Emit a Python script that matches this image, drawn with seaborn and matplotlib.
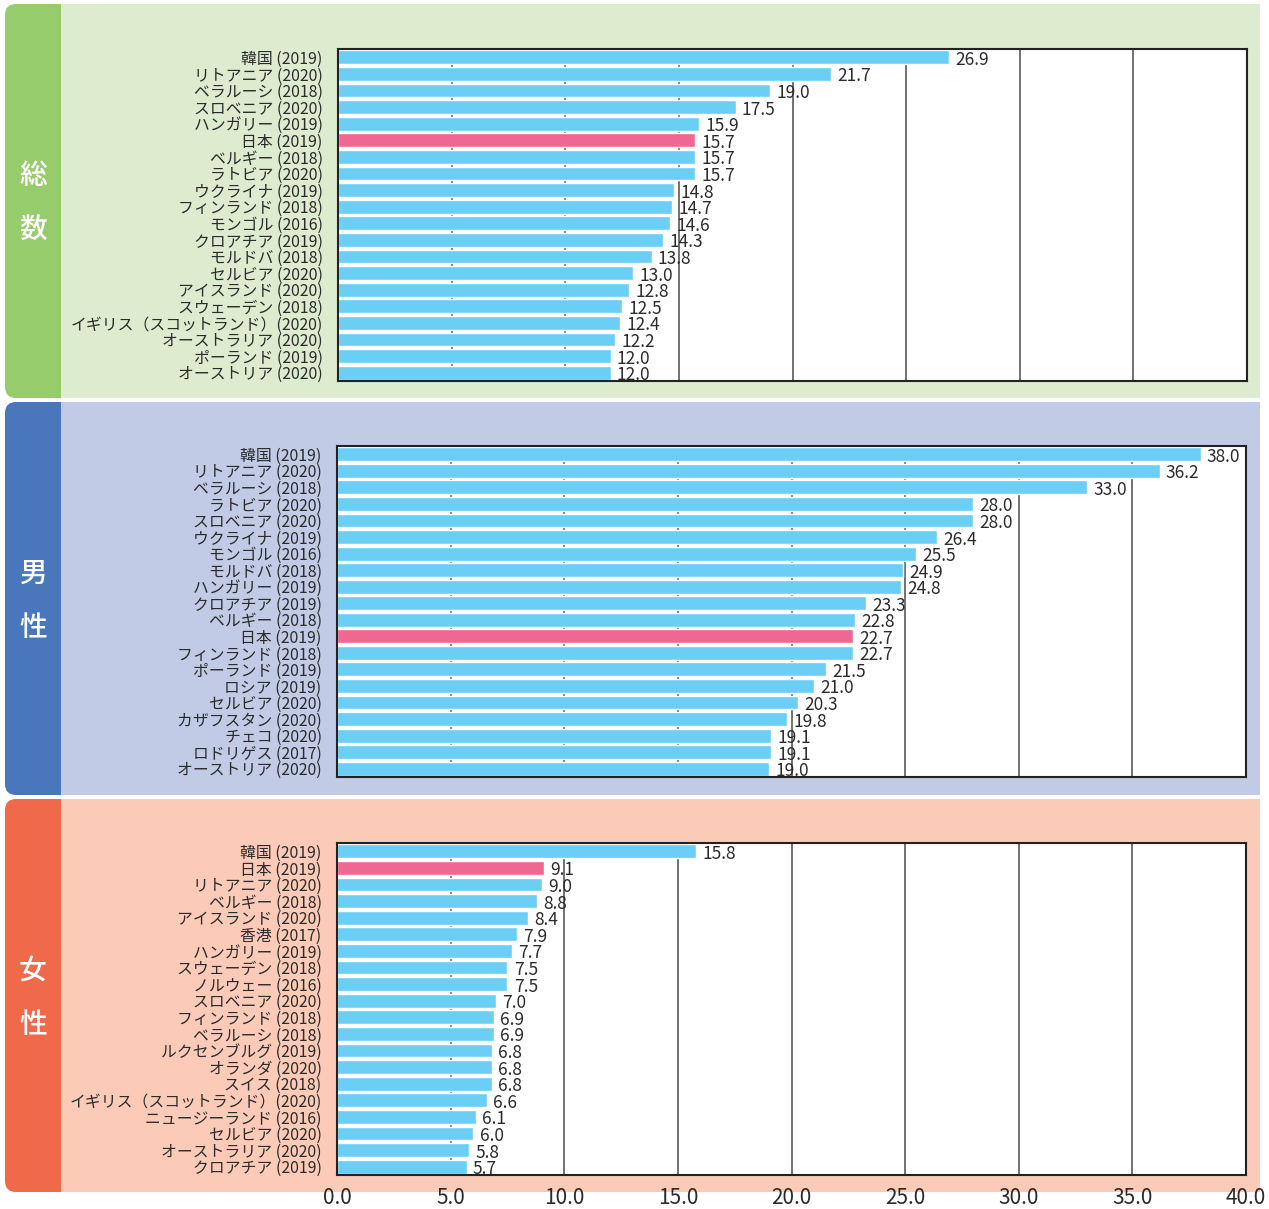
import numpy as np
import pandas as pd
import matplotlib
matplotlib.use('Agg')
import matplotlib.pyplot as plt
import seaborn as sns
from matplotlib.patches import FancyBboxPatch, Rectangle
from matplotlib.transforms import IdentityTransform

sns.set_theme(style='white')
plt.rcParams['font.family'] = ['Noto Sans CJK JP', 'DejaVu Sans']

# 総数
total_labels = ['韓国 (2019)', 'リトアニア (2020)', 'ベラルーシ (2018)', 'スロベニア (2020)',
                'ハンガリー (2019)', '日本 (2019)', 'ベルギー (2018)', 'ラトビア (2020)',
                'ウクライナ (2019)', 'フィンランド (2018)', 'モンゴル (2016)', 'クロアチア (2019)',
                'モルドバ (2018)', 'セルビア (2020)', 'アイスランド (2020)', 'スウェーデン (2018)',
                'イギリス（スコットランド）(2020)', 'オーストラリア (2020)', 'ポーランド (2019)',
                'オーストリア (2020)']
total_values = [26.9, 21.7, 19.0, 17.5, 15.9, 15.7, 15.7, 15.7, 14.8, 14.7,
                14.6, 14.3, 13.8, 13.0, 12.8, 12.5, 12.4, 12.2, 12.0, 12.0]

# 男性
male_labels = ['韓国 (2019)', 'リトアニア (2020)', 'ベラルーシ (2018)', 'ラトビア (2020)',
               'スロベニア (2020)', 'ウクライナ (2019)', 'モンゴル (2016)', 'モルドバ (2018)',
               'ハンガリー (2019)', 'クロアチア (2019)', 'ベルギー (2018)', '日本 (2019)',
               'フィンランド (2018)', 'ポーランド (2019)', 'ロシア (2019)', 'セルビア (2020)',
               'カザフスタン (2020)', 'チェコ (2020)', 'ロドリゲス (2017)', 'オーストリア (2020)']
male_values = [38.0, 36.2, 33.0, 28.0, 28.0, 26.4, 25.5, 24.9, 24.8, 23.3,
               22.8, 22.7, 22.7, 21.5, 21.0, 20.3, 19.8, 19.1, 19.1, 19.0]

# 女性
female_labels = ['韓国 (2019)', '日本 (2019)', 'リトアニア (2020)', 'ベルギー (2018)',
                 'アイスランド (2020)', '香港 (2017)', 'ハンガリー (2019)', 'スウェーデン (2018)',
                 'ノルウェー (2016)', 'スロベニア (2020)', 'フィンランド (2018)', 'ベラルーシ (2018)',
                 'ルクセンブルグ (2019)', 'オランダ (2020)', 'スイス (2018)',
                 'イギリス（スコットランド）(2020)', 'ニュージーランド (2016)', 'セルビア (2020)',
                 'オーストラリア (2020)', 'クロアチア (2019)']
female_values = [15.8, 9.1, 9.0, 8.8, 8.4, 7.9, 7.7, 7.5, 7.5, 7.0,
                 6.9, 6.9, 6.8, 6.8, 6.8, 6.6, 6.1, 6.0, 5.8, 5.7]

x_ticks = [0, 5, 10, 15, 20, 25, 30, 35, 40]

BLUE = '#6BCEF5'
PINK = '#F06791'
TEXT = '#2b2b2b'

W, H = 1269, 1209
fig = plt.figure(figsize=(W / 100, H / 100), dpi=100)
fig.patch.set_facecolor('white')

panels = [
    dict(name='総数', labels=total_labels, values=total_values, band=(4, 398),
         strip='#97CC6D', bg='#DDEBCF', axes=(338, 1247, 49, 381)),
    dict(name='男性', labels=male_labels, values=male_values, band=(402, 795),
         strip='#4A76BB', bg='#C1CBE6', axes=(337, 1246, 446, 777)),
    dict(name='女性', labels=female_labels, values=female_values, band=(799, 1192),
         strip='#F0694A', bg='#FBCBB8', axes=(337, 1246, 843, 1175)),
]

for i, p in enumerate(panels):
    top, bot = p['band']
    # coloured band (pixel coordinates, y from bottom)
    strip = FancyBboxPatch((5, H - bot), 100, bot - top,
                           boxstyle='round,pad=0,rounding_size=11',
                           transform=IdentityTransform(), facecolor=p['strip'],
                           edgecolor='none', zorder=-6)
    bg = Rectangle((61, H - bot), 1260 - 61, bot - top, transform=IdentityTransform(),
                   facecolor=p['bg'], edgecolor='none', zorder=-5)
    fig.patches.extend([strip, bg])

    mid = (top + bot) / 2
    fig.text(33 / W, 1 - (mid - 25) / H, p['name'][0], ha='center', va='center',
             color='white', fontsize=20, fontweight='medium')
    fig.text(33 / W, 1 - (mid + 29) / H, p['name'][1], ha='center', va='center',
             color='white', fontsize=20, fontweight='medium')

    x0, x1, y0, y1 = p['axes']
    ax = fig.add_axes([x0 / W, 1 - y1 / H, (x1 - x0) / W, (y1 - y0) / H])
    ax.set_facecolor('white')

    df = pd.DataFrame({'label': p['labels'], 'value': p['values']})
    df['japan'] = df['label'].str.startswith('日本')
    sns.barplot(data=df, x='value', y='label', hue='japan',
                palette={False: BLUE, True: PINK}, dodge=False, legend=False,
                width=0.84, saturation=1, orient='h', ax=ax, zorder=2)

    for c in ax.containers:
        texts = ax.bar_label(c, fmt='%.1f', padding=4.5, fontsize=12.5, color=TEXT, zorder=3)
        for t in texts:
            t.xyann = (4.5, -1.8)

    ax.set_xlim(0, 40)
    ax.set_ylim(len(df) - 0.5, -0.5)
    ax.set_xticks(x_ticks)
    ax.xaxis.grid(True, color='#4a4a4a', linewidth=1.1, zorder=0)
    ax.yaxis.grid(False)
    ax.set_axisbelow(True)
    ax.set_xlabel('')
    ax.set_ylabel('')
    ax.tick_params(axis='y', length=0, pad=11, labelsize=11.4, labelcolor=TEXT)
    if i == 2:
        ax.set_xticklabels([f'{t:.1f}' for t in x_ticks])
        ax.tick_params(axis='x', length=0, pad=9, labelsize=15, labelcolor=TEXT)
    else:
        ax.tick_params(axis='x', length=0, labelbottom=False)
    for s in ax.spines.values():
        s.set_color('#222222')
        s.set_linewidth(1.5)

fig.savefig('out.png', dpi=100)
